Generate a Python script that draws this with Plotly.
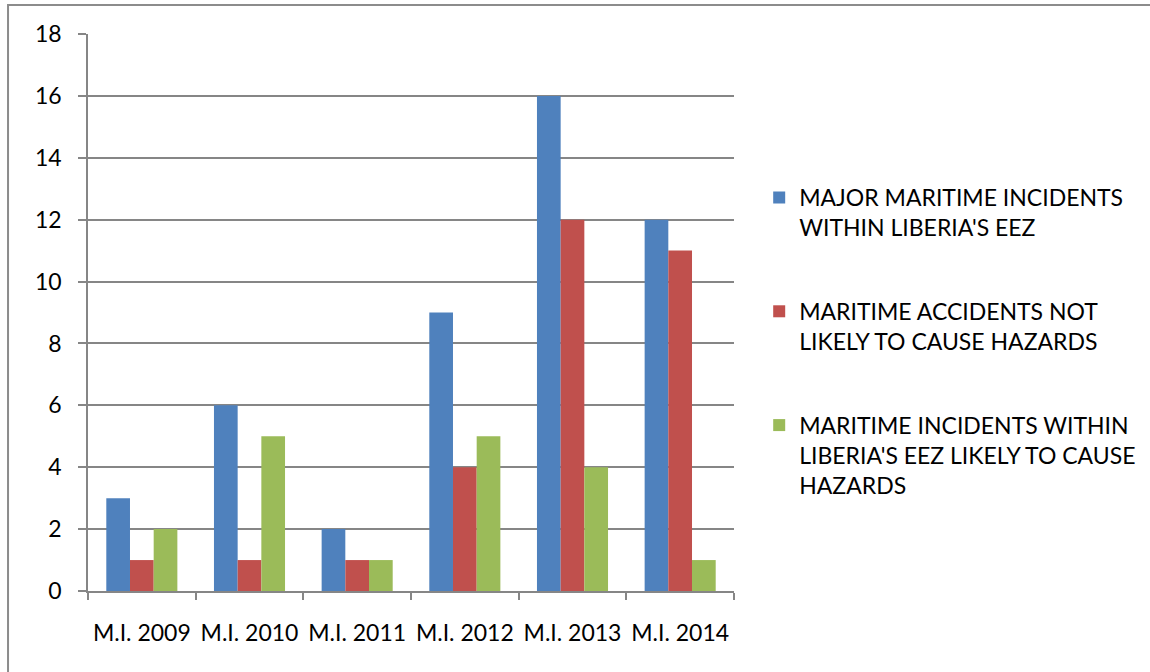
import plotly.graph_objects as go

categories = ["M.I. 2009", "M.I. 2010", "M.I. 2011", "M.I. 2012", "M.I. 2013", "M.I. 2014"]
series_names = [
    "MAJOR MARITIME INCIDENTS<br>WITHIN LIBERIA'S EEZ",
    "MARITIME ACCIDENTS NOT<br>LIKELY TO CAUSE HAZARDS",
    "MARITIME INCIDENTS WITHIN<br>LIBERIA'S EEZ LIKELY TO CAUSE<br>HAZARDS",
]
major_incidents = [3, 6, 2, 9, 16, 12]
accidents_not_hazard = [1, 1, 1, 4, 12, 11]
incidents_hazard = [2, 5, 1, 5, 4, 1]
colors = ["#4F81BD", "#C0504D", "#9BBB59"]
y_ticks = [0, 2, 4, 6, 8, 10, 12, 14, 16, 18]

FONT = "Lato, 'Open Sans', sans-serif"
FS = 23

fig = go.Figure()
for i, (name, vals) in enumerate(zip(series_names, [major_incidents, accidents_not_hazard, incidents_hazard])):
    fig.add_trace(go.Bar(
        x=categories, y=vals, name=name,
        marker=dict(color=colors[i], line=dict(width=0)),
        legendgroup=f"g{i}",
    ))

fig.update_layout(
    width=1150, height=672,
    margin=dict(l=88, r=416, t=34, b=81, autoexpand=False),
    paper_bgcolor="white", plot_bgcolor="white",
    barmode="group", bargap=0.34, bargroupgap=0,
    font=dict(family=FONT, size=FS, color="#000000"),
    showlegend=True,
    legend=dict(
        x=1.039, xanchor="left", y=0.745, yanchor="top",
        valign="top", tracegroupgap=51,
        font=dict(family=FONT, size=FS, color="#000000"),
        itemwidth=30, bgcolor="rgba(0,0,0,0)",
    ),
    xaxis=dict(
        showline=True, linecolor="#868686", linewidth=1.5,
        ticks="outside", tickson="boundaries", ticklen=7, tickcolor="#868686", tickwidth=1.5,
        showgrid=False, tickfont=dict(family=FONT, size=FS), ticklabelstandoff=21,
        tickangle=0, automargin=False,
    ),
    yaxis=dict(
        range=[0, 18], tickvals=y_ticks, showline=True, linecolor="#868686", linewidth=1.5,
        ticks="outside", ticklen=8, tickcolor="#868686", tickwidth=1.5,
        showgrid=True, gridcolor="#868686", gridwidth=1.5, zeroline=False,
        tickfont=dict(family=FONT, size=FS), ticklabelstandoff=12, automargin=False,
    ),
    shapes=[dict(
        type="rect", xref="paper", yref="paper",
        x0=-0.1238, x1=2.0, y0=-1.0, y1=1.0521,
        line=dict(color="#8c8c8c", width=2), fillcolor="rgba(0,0,0,0)",
    )],
)

fig.write_html("out.html")
